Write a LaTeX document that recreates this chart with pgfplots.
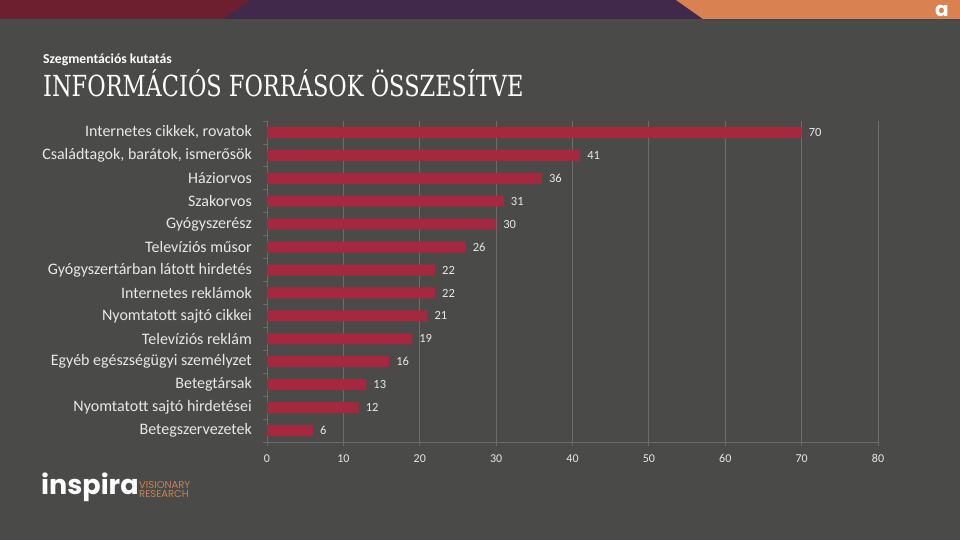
\documentclass[border=0pt]{standalone}
\usepackage{pgfplots}
\pgfplotsset{compat=1.18}
\usepackage{fontspec}
\setmainfont{Carlito}
\newfontfamily\titlefont[FakeStretch=0.775]{DejaVu Serif}
\newfontfamily\logofont{Poppins}
\definecolor{bg}{HTML}{4A4A48}
\definecolor{topred}{HTML}{6D1F2F}
\definecolor{toppurple}{HTML}{40294A}
\definecolor{toporange}{HTML}{D98150}
\definecolor{barred}{HTML}{A5283F}
\definecolor{gridc}{HTML}{6C6C6A}
\definecolor{txt}{HTML}{E8E8E8}
\definecolor{logoorange}{HTML}{C8834F}
\begin{document}
\begin{tikzpicture}[x=1pt,y=1pt]
\fill[bg] (0,0) rectangle (960,540);
\useasboundingbox (0,0) rectangle (960,540);
\fill[topred] (0,540) -- (251,540) -- (223,521) -- (0,521) -- cycle;
\fill[toppurple] (223,521) -- (251,540) -- (676,540) -- (703,521) -- cycle;
\fill[toporange] (676,540) -- (960,540) -- (960,521) -- (703,521) -- cycle;
\node[anchor=base, inner sep=0, text=white] at (942,523) {\logofont\bfseries\fontsize{20}{22}\selectfont a};
\node[anchor=base west, inner sep=0, text=white] at (43,476) {\fontsize{13.7}{15}\selectfont\bfseries Szegmentációs kutatás};
\node[anchor=base west, inner sep=0, text=white] at (43,443) {\titlefont\fontsize{29}{32}\selectfont INFORMÁCIÓS FORRÁSOK ÖSSZESÍTVE};
\node[anchor=base west, inner sep=0, text=white] at (41,45) {\logofont\bfseries\fontsize{27}{30}\selectfont inspira};
\node[anchor=base west, inner sep=0, text=logoorange] at (139,51) {\logofont\fontsize{10}{11}\selectfont VISIONARY};
\node[anchor=base west, inner sep=0, text=logoorange] at (139,42) {\logofont\fontsize{10}{11}\selectfont RESEARCH};
\begin{axis}[
  at={(267pt,98pt)}, anchor=south west,
  scale only axis, width=611pt, height=321pt,
  xbar, bar width=11pt,
  xmin=0, xmax=80, ymin=-0.5, ymax=13.5,
  axis x line*=bottom, axis y line*=left,
  axis line style={gridc, line width=0.8pt},
  xtick={0,10,...,80},
  xmajorgrids, major grid style={gridc, line width=0.8pt},
  ytick={0,...,13},
  yticklabels={Betegszervezetek, Nyomtatott sajtó hirdetései, Betegtársak, Egyéb egészségügyi személyzet, Televíziós reklám, Nyomtatott sajtó cikkei, Internetes reklámok, Gyógyszertárban látott hirdetés, Televíziós műsor, Gyógyszerész, Szakorvos, Háziorvos, {Családtagok, barátok, ismerősök}, {Internetes cikkek, rovatok}},
  minor ytick={-0.5,0.5,...,13.5},
  tick align=outside,
  major tick length=4pt, minor tick length=4pt,
  y tick style={draw=none},
  minor y tick style={draw=gridc, line width=0.8pt},
  x tick style={gridc, line width=0.8pt},
  tick label style={text=txt},
  yticklabel style={font=\fontsize{16}{18}\selectfont, inner sep=0pt, xshift=-11pt},
  xticklabel style={font=\fontsize{12}{14}\selectfont, inner sep=0pt, anchor=north, text height=8pt, text depth=0pt, yshift=-8pt},
  /pgf/number format/assume math mode=true,
  nodes near coords,
  nodes near coords style={font=\fontsize{12.5}{14}\selectfont, text=txt, inner sep=0pt, anchor=west, xshift=7pt},
  clip=false,
]
\addplot[fill=barred, draw=none] coordinates {
(6,0) (12,1) (13,2) (16,3) (19,4) (21,5) (22,6) (22,7) (26,8) (30,9) (31,10) (36,11) (41,12) (70,13)
};
\end{axis}
\end{tikzpicture}
\end{document}
